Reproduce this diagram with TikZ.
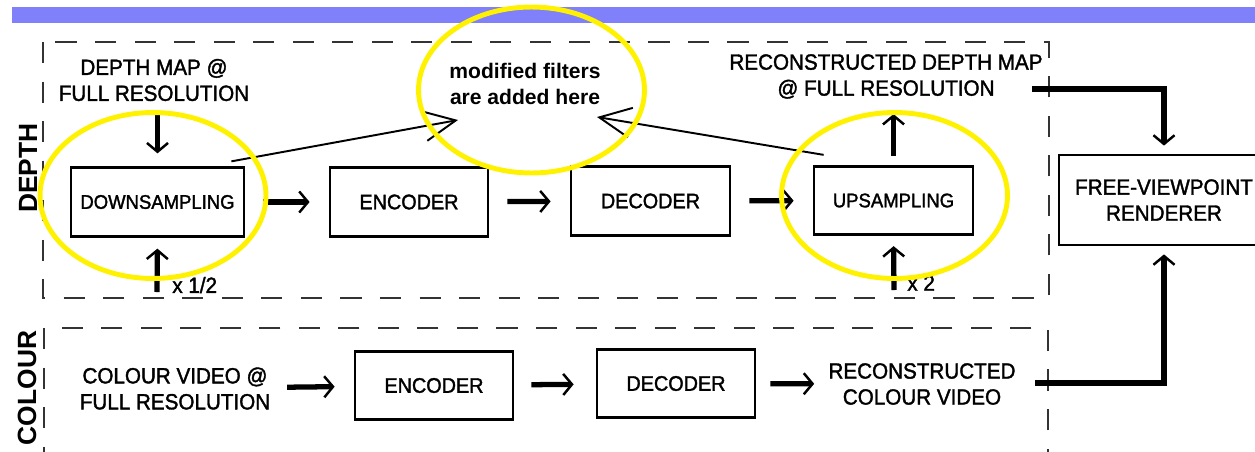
\documentclass[tikz,border=0pt]{standalone}
\usepackage{fontspec}
\setmainfont{Liberation Sans}
\newfontfamily\labelfont[FakeStretch=0.94, FakeBold=1.6]{Liberation Sans}
\usetikzlibrary{arrows.meta}

\tikzset{
    blockbox/.style={draw, line width=1.6pt, minimum height=1.37cm, inner sep=0pt,
        align=center, font=\labelfont\fontsize{12}{14.8}\selectfont},
    plaintext/.style={align=center, inner sep=0pt, font=\labelfont\fontsize{12.5}{14.8}\selectfont},
    sidelabel/.style={rotate=90, inner sep=0pt, font=\fontsize{15}{18}\selectfont\bfseries},
    fatarrow/.style={line width=3pt, -{Straight Barb[length=5pt,width=12pt,line width=1.4pt]}},
    linkarrow/.style={fatarrow, shorten <=0.36cm, shorten >=0.38cm},
    thinarrow/.style={line width=1.1pt, -{Straight Barb[length=18pt,width=17pt,line width=1.1pt]}},
    groupbox/.style={draw=black!80, line width=1.1pt, dash pattern=on 12pt off 10.5pt},
    ring/.style={draw=yellow, line width=2.8pt}
}

\begin{document}
\begin{tikzpicture}[x=0.02cm, y=-0.02cm]
    \clip (0,0) rectangle (1255,451);
    \fill[white] (0,0) rectangle (1255,451);

    % Title bar
    \fill[fill={rgb,255:red,128;green,128;blue,250}] (12,7) rectangle (1255,23);

    % Dashed groups
    \draw[groupbox] (43,42) rectangle (1049,298);
    \draw[groupbox] (44,328) rectangle (1048,470);
    \node[sidelabel] (depthlbl) at (28,168) {DEPTH};
    \node[sidelabel] (colourlbl) at (27,388) {COLOUR};

    % Depth row
    \node[plaintext] (depthin) at (154,80) {DEPTH MAP @\\FULL RESOLUTION};
    \node[blockbox, minimum width=3.46cm, font=\labelfont\fontsize{11.2}{13}\selectfont] (down) at (157.5,202) {DOWNSAMPLING};
    \node[blockbox, minimum width=3.16cm] (denc) at (409,202) {ENCODER};
    \node[blockbox, minimum width=3.18cm] (ddec) at (650.5,201) {DECODER};
    \node[blockbox, minimum width=3.18cm, font=\labelfont\fontsize{11.2}{13}\selectfont] (up) at (893.5,200.5) {UPSAMPLING};
    \node[plaintext] (recdepth) at (886,76.5) {RECONSTRUCTED DEPTH MAP\\@ FULL RESOLUTION};
    \node[plaintext, font=\fontsize{12}{14.8}\selectfont\bfseries] (filters) at (525,83.5) {modified filters\\are added here};

    \coordinate (dsin) at (157,292);
    \coordinate (usin) at (894,290);
    \node[plaintext, anchor=west] (half) at (172,285) {x 1/2};
    \node[plaintext, anchor=west] (double) at (907,283) {x 2};

    \draw[fatarrow, shorten <=0.18cm, shorten >=0.26cm] (depthin.south -| down.north) -- (down.north);
    \draw[fatarrow, shorten >=0.22cm] (dsin) -- (down.south);
    \draw[linkarrow] (down) -- (denc);
    \draw[linkarrow] (denc) -- (ddec);
    \draw[linkarrow] (ddec) -- (up);
    \draw[fatarrow, shorten <=0.18cm, shorten >=0.3cm] (up.north) -- (recdepth.south -| up.north);
    \draw[fatarrow, shorten >=0.2cm] (usin) -- (up.south);

    % Pointers to the filters note
    \coordinate (filtl) at (458,120);
    \coordinate (filtr) at (597,117);
    \draw[thinarrow] ([xshift=-0.28cm, yshift=0.1cm]down.north east) -- (filtl);
    \draw[thinarrow] ([xshift=0.22cm, yshift=0.2cm]up.north west) -- (filtr);

    % Colour row
    \node[plaintext] (colourin) at (175,388.5) {COLOUR VIDEO @\\FULL RESOLUTION};
    \node[blockbox, minimum width=3.16cm] (cenc) at (434,385.5) {ENCODER};
    \node[blockbox, minimum width=3.16cm] (cdec) at (676,383.5) {DECODER};
    \node[plaintext] (crec) at (922,384) {RECONSTRUCTED\\COLOUR VIDEO};

    \draw[linkarrow, shorten <=0.33cm] (colourin) -- (cenc);
    \draw[linkarrow, shorten <=0.34cm, shorten >=0.44cm] (cenc) -- (cdec);
    \draw[linkarrow, shorten <=0.28cm, shorten >=0.28cm] (cdec) -- (crec);

    % Renderer
    \node[blockbox, minimum width=4.2cm, minimum height=1.8cm, font=\labelfont\fontsize{12.5}{14.8}\selectfont] (fvr) at (1164,200) {FREE-VIEWPOINT\\RENDERER};
    \coordinate (depthout) at (1032,89);
    \coordinate (colourout) at (1035,383);
    \draw[fatarrow, shorten >=0.16cm] (depthout) -| (fvr.north);
    \draw[fatarrow, shorten >=0.16cm] (colourout) -| (fvr.south);

    % Highlights
    \draw[ring] (153,195.5) ellipse [x radius=2.26cm, y radius=1.66cm];
    \draw[ring] (531.5,90) ellipse [x radius=2.26cm, y radius=1.66cm];
    \draw[ring] (894.5,195.5) ellipse [x radius=2.26cm, y radius=1.66cm];
\end{tikzpicture}
\end{document}
